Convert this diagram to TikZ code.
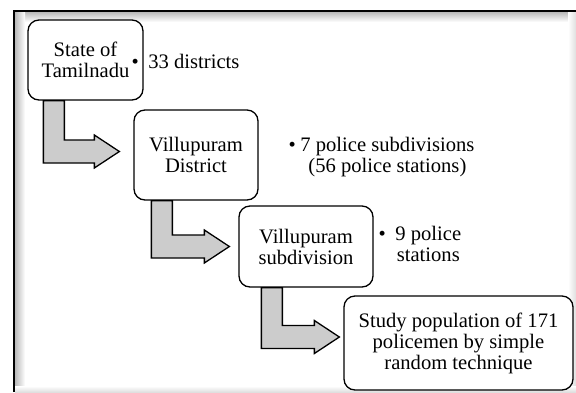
\documentclass[tikz,border=0pt]{standalone}
\usepackage{fontspec}
\setmainfont{Liberation Serif}
\definecolor{arrowgray}{HTML}{CCCCCC}
\tikzset{
  stage/.style={draw,fill=white,rounded corners=11pt,line width=1.3pt,align=center,inner sep=0pt},
  note/.style={anchor=base west,inner sep=0pt},
  bentarrow/.style={draw,fill=arrowgray,line width=1.3pt,line join=miter}
}
\newcommand{\notetext}[2]{\begin{tabular}[t]{@{}c@{\hspace{#1}}c@{}}\textbullet & #2\end{tabular}}
\newcommand{\flowarrow}[5]{%
  \draw[bentarrow] ([xshift=#3]#1.south west)
    |- ([xshift=-#4-25pt,yshift=#5-11.5pt]#2.west) -- ++(0pt,-5pt)
    -- ([xshift=-#4,yshift=#5]#2.west) -- ++(-25pt,16.5pt) -- ++(0pt,-5pt)
    -| ([xshift=#3+21pt]#1.south west) -- cycle;}

\begin{document}
\begin{tikzpicture}[x=1pt,y=-1pt,
	every node/.style={font=\fontsize{20.6}{21}\selectfont}
]
\useasboundingbox (0,0) rectangle (576,392);
% frame with shadow
\shade[top color=gray!55,bottom color=white] (15,12) rectangle (576,22);
\shade[left color=gray!55,right color=white] (15,12) rectangle (25,392);
\shade[left color=white,right color=gray!25] (568,12) rectangle (576,392);
\shade[top color=white,bottom color=gray!25] (15,386) rectangle (576,392);
\draw[line width=2pt] (14,392) -- (14,11) -- (576,11);

\node[stage,minimum width=115pt,minimum height=80pt] (state) at (85.5,60) {State of\\Tamilnadu};
\node[stage,minimum width=124pt,minimum height=90pt] (district) at (196,155) {Villupuram\\District};
\node[stage,minimum width=134pt,minimum height=81pt] (subdiv) at (306,246.5) {Villupuram\\subdivision};
\node[stage,minimum width=229pt,minimum height=94pt] (study) at (458.5,343) {Study population of 171\\policemen by simple\\random technique};

\flowarrow{state}{district}{16pt}{14pt}{3.5pt}
\flowarrow{district}{subdiv}{18pt}{9pt}{0pt}
\flowarrow{subdiv}{study}{23pt}{4pt}{6pt}

% bullet notes
\node[note] (n1) at (131.5,68) {\notetext{9.5pt}{33 districts}};
\node[note] (n2) at (288.5,151) {\notetext{4.5pt}{7 police subdivisions\\ & (56 police stations)}};
\node[note] (n3) at (378.5,240) {\notetext{9.5pt}{9 police\\ & stations}};
\end{tikzpicture}
\end{document}
